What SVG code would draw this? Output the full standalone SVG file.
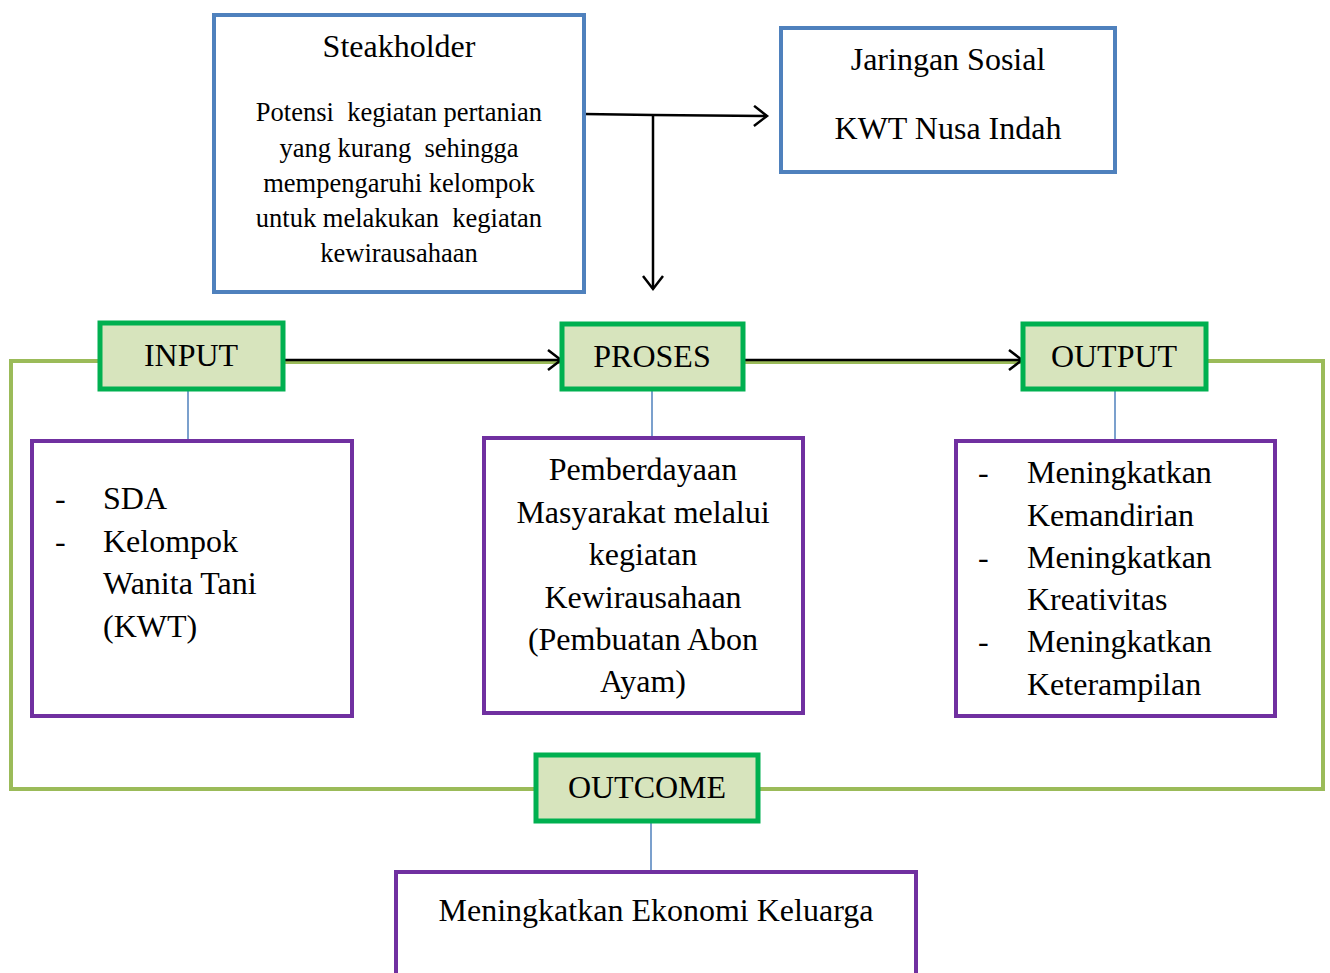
<svg xmlns="http://www.w3.org/2000/svg" width="1330" height="973" viewBox="0 0 1330 973">
<style>
text{font-family:"Liberation Serif","Times New Roman",serif;fill:#000}
.blue{fill:#fff;stroke:#4f81bd;stroke-width:4}
.grn{fill:#d7e4bd;stroke:#00b050;stroke-width:5}
.pur{fill:#fff;stroke:#7030a0;stroke-width:4}
.loop{fill:none;stroke:#9bbb59;stroke-width:4}
.arr{fill:none;stroke:#000;stroke-width:2.5}
.thin{stroke:#4f81bd;stroke-width:1.5}
.c{text-anchor:middle}
.big{font-size:32px}
</style>
<defs>
<marker id="ah" markerWidth="20" markerHeight="24" refX="15" refY="11" orient="auto" markerUnits="userSpaceOnUse">
<path d="M2,1 L15,11 L2,21" fill="none" stroke="#000" stroke-width="2.5"/>
</marker>
</defs>
<g id="loop">
<path class="loop" d="M100,361 H11 V789 H536 M758,789 H1323 V361 H1206"/>
<path class="loop" d="M283,362 H562 M743,362 H1023"/>
</g>
<g id="connectors">
<path class="arr" d="M584,114 L653,115 L767,116" marker-end="url(#ah)"/>
<path class="arr" d="M653,115 V289" marker-end="url(#ah)"/>
<path class="arr" d="M283,360 H561" marker-end="url(#ah)"/>
<path class="arr" d="M743,360 H1022" marker-end="url(#ah)"/>
<line class="thin" x1="188" y1="389" x2="188" y2="441"/>
<line class="thin" x1="652" y1="389" x2="652" y2="438"/>
<line class="thin" x1="1115" y1="389" x2="1115" y2="441"/>
<line class="thin" x1="651" y1="821" x2="651" y2="872"/>
</g>
<g id="steakholder">
<rect class="blue" x="214" y="15" width="370" height="277"/>
<text class="c" x="399" y="57" font-size="32">Steakholder</text>
<g font-size="26.5">
<text class="c" x="399" y="121" xml:space="preserve">Potensi  kegiatan pertanian</text>
<text class="c" x="399" y="157" xml:space="preserve">yang kurang  sehingga</text>
<text class="c" x="399" y="192">mempengaruhi kelompok</text>
<text class="c" x="399" y="227" xml:space="preserve">untuk melakukan  kegiatan</text>
<text class="c" x="399" y="262">kewirausahaan</text>
</g>
</g>
<g id="jaringan">
<rect class="blue" x="781" y="28" width="334" height="144"/>
<text class="c big" x="948" y="70">Jaringan Sosial</text>
<text class="c big" x="948" y="139">KWT Nusa Indah</text>
</g>
<g id="input">
<rect class="grn" x="100" y="323" width="183" height="66"/>
<text class="c big" x="191" y="366">INPUT</text>
</g>
<g id="proses">
<rect class="grn" x="562" y="324" width="181" height="65"/>
<text class="c big" x="652" y="367">PROSES</text>
</g>
<g id="output">
<rect class="grn" x="1023" y="324" width="183" height="65"/>
<text class="c big" x="1114" y="367">OUTPUT</text>
</g>
<g id="outcome">
<rect class="grn" x="536" y="755" width="222" height="66"/>
<text class="c big" x="647" y="798">OUTCOME</text>
</g>
<g id="input-detail">
<rect class="pur" x="32" y="441" width="320" height="275"/>
<g class="big">
<text x="55" y="509">-</text><text x="103" y="509">SDA</text>
<text x="55" y="552">-</text><text x="103" y="552">Kelompok</text>
<text x="103" y="594">Wanita Tani</text>
<text x="103" y="637">(KWT)</text>
</g>
</g>
<g id="proses-detail">
<rect class="pur" x="484" y="438" width="319" height="275"/>
<g class="big">
<text class="c" x="643" y="480">Pemberdayaan</text>
<text class="c" x="643" y="523">Masyarakat melalui</text>
<text class="c" x="643" y="565">kegiatan</text>
<text class="c" x="643" y="608">Kewirausahaan</text>
<text class="c" x="643" y="650">(Pembuatan Abon</text>
<text class="c" x="643" y="692">Ayam)</text>
</g>
</g>
<g id="output-detail">
<rect class="pur" x="956" y="441" width="319" height="275"/>
<g class="big">
<text x="978" y="483">-</text><text x="1027" y="483">Meningkatkan</text>
<text x="1027" y="526">Kemandirian</text>
<text x="978" y="568">-</text><text x="1027" y="568">Meningkatkan</text>
<text x="1027" y="610">Kreativitas</text>
<text x="978" y="652">-</text><text x="1027" y="652">Meningkatkan</text>
<text x="1027" y="695">Keterampilan</text>
</g>
</g>
<g id="outcome-detail">
<rect class="pur" x="396" y="872" width="520" height="110"/>
<text class="c big" x="656" y="921">Meningkatkan Ekonomi Keluarga</text>
</g>
</svg>
